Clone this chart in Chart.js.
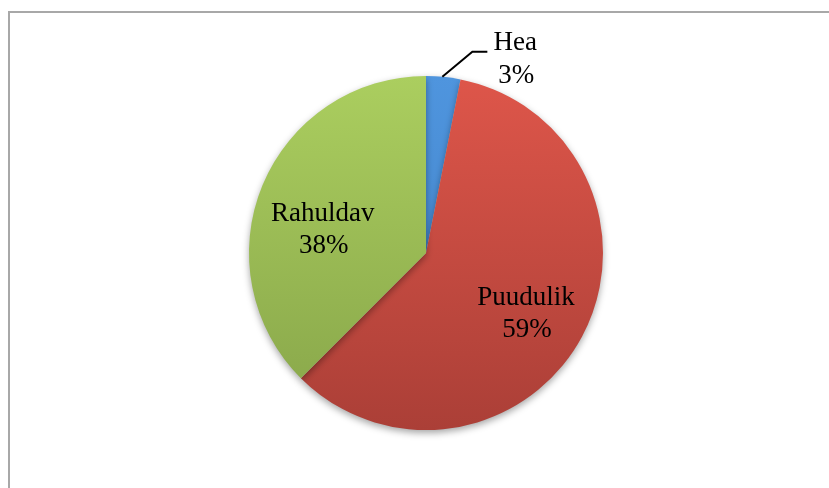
<!DOCTYPE html>
<html>
<head>
<meta charset="utf-8">
<script src="https://cdn.jsdelivr.net/npm/chart.js@4.4.1/dist/chart.umd.min.js"></script>
<style>
  html, body { margin: 0; padding: 0; background: #fff; }
  #wrap { position: relative; width: 829px; height: 488px; }
  #frame {
    position: absolute; left: 8px; top: 11px; right: -4px; bottom: -4px;
    border-left: 2px solid #a8a8a8; border-top: 2px solid #a8a8a8;
  }
  canvas { position: absolute; left: 0; top: 0; }
</style>
</head>
<body>
<div id="wrap">
  <div id="frame"></div>
  <canvas id="chart-pie" width="829" height="488"></canvas>
</div>
<script>
// data (counts, shown as percent of total)
const labels = ["Hea", "Puudulik", "Rahuldav"];
const counts = [1, 19, 12];
const percentLabels = ["3%", "59%", "38%"];

// top / bottom colours of each slice's vertical gradient
const topColors = ["#4f95de", "#de564a", "#abce5f"];
const bottomColors = ["#3f7fc4", "#ab3f37", "#87a549"];

function sliceGradient(context) {
  const chart = context.chart;
  const area = chart.chartArea;
  if (!area) return topColors[context.dataIndex];
  const g = chart.ctx.createLinearGradient(0, area.top, 0, area.bottom);
  g.addColorStop(0, topColors[context.dataIndex]);
  g.addColorStop(1, bottomColors[context.dataIndex]);
  return g;
}

// soft shadow under the pie
const shadowPlugin = {
  id: "pieShadow",
  beforeDatasetsDraw(chart) {
    const ctx = chart.ctx;
    ctx.save();
    ctx.shadowColor = "rgba(0,0,0,0.35)";
    ctx.shadowBlur = 7;
    ctx.shadowOffsetX = 0;
    ctx.shadowOffsetY = 3;
  },
  afterDatasetsDraw(chart) {
    chart.ctx.restore();
  }
};

// slice labels: inside for the big ones, outside with leader line for the small one
const labelPlugin = {
  id: "sliceLabels",
  afterDraw(chart) {
    const ctx = chart.ctx;
    const arcs = chart.getDatasetMeta(0).data;
    ctx.save();
    ctx.font = "27px 'Liberation Serif', 'Times New Roman', serif";
    ctx.fillStyle = "#000";
    ctx.textAlign = "center";
    ctx.textBaseline = "alphabetic";
    const lineGap = 32;
    arcs.forEach((arc, i) => {
      const mid = (arc.startAngle + arc.endAngle) / 2;
      const r = arc.outerRadius;
      if (arc.endAngle - arc.startAngle < 0.3) {
        // leader line out of the slice edge
        const x0 = arc.x + Math.cos(mid) * r;
        const y0 = arc.y + Math.sin(mid) * r;
        const x1 = x0 + 29;
        const y1 = y0 - 25;
        ctx.strokeStyle = "#000";
        ctx.lineWidth = 2;
        ctx.beginPath();
        ctx.moveTo(x0 - 1, y0);
        ctx.lineTo(x1, y1);
        ctx.lineTo(x1 + 15, y1);
        ctx.stroke();
        const cx = x1 + 43;
        ctx.fillText(labels[i], cx, y1 - 2);
        ctx.fillText(percentLabels[i], cx + 1, y1 + 31);
      } else {
        const f = i === 1 ? 0.64 : 0.6;
        const shift = i === 2 ? 0.12 : 0.02;
        const cx = arc.x + Math.cos(mid - shift) * r * f;
        const cy = arc.y + Math.sin(mid - shift) * r * f + (i === 1 ? 4 : 0);
        ctx.fillText(labels[i], cx - 1, cy - 3);
        ctx.fillText(percentLabels[i], cx, cy - 3 + lineGap);
      }
    });
    ctx.restore();
  }
};

const ctx = document.getElementById("chart-pie").getContext("2d");
new Chart(ctx, {
  type: "pie",
  data: {
    labels: labels,
    datasets: [{
      data: counts,
      backgroundColor: sliceGradient,
      borderWidth: 0
    }]
  },
  options: {
    responsive: false,
    animation: false,
    layout: { padding: { top: 76, bottom: 58, left: 100, right: 77 } },
    plugins: {
      legend: { display: false },
      tooltip: { enabled: false }
    }
  },
  plugins: [shadowPlugin, labelPlugin]
});
</script>
</body>
</html>
